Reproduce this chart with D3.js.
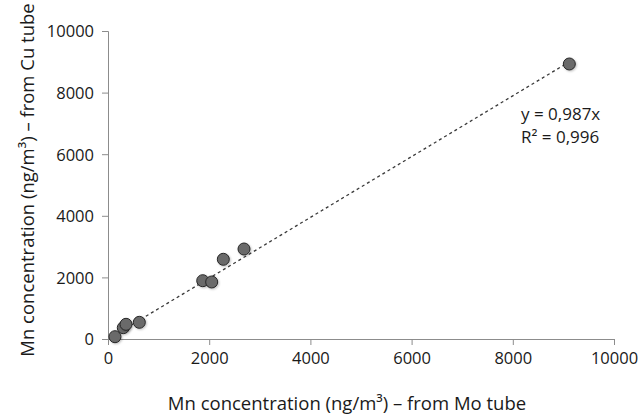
<!DOCTYPE html>
<html>
<head>
<meta charset="utf-8">
<script src="https://cdn.jsdelivr.net/npm/d3@7"></script>
<style>
  html, body { margin: 0; padding: 0; background: #fff; }
  svg { display: block; font-family: "Open Sans", sans-serif; }
</style>
</head>
<body>
<div id="chart"></div>
<script>
// Mn concentration: Mo tube (x) vs Cu tube (y), ng/m3
const moTube = [138, 302, 356, 619, 1872, 2049, 2279, 2688, 9117];
const cuTube = [75, 367, 477, 542, 1893, 1851, 2588, 2922, 8929];
const slope = 0.987;
const xTicks = [0, 2000, 4000, 6000, 8000, 10000];
const yTicks = [0, 2000, 4000, 6000, 8000, 10000];
const eqLines = ['y = 0,987x', 'R² = 0,996'];

(function(){
  const width = 641, height = 418;
  const margin = {top:31, right:27, bottom:79, left:108};
  const innerW = width - margin.left - margin.right;
  const innerH = height - margin.top - margin.bottom;

  const svg = d3.select('#chart').append('svg')
    .attr('width', width)
    .attr('height', height);

  const g = svg.append('g')
    .attr('transform', `translate(${margin.left},${margin.top})`);

  const x = d3.scaleLinear().domain([0, 10000]).range([0, innerW]);
  const y = d3.scaleLinear().domain([0, 10000]).range([innerH, 0]);

  // axes
  const xAxis = g.append('g')
    .attr('transform', `translate(0,${innerH})`)
    .call(d3.axisBottom(x).tickValues(xTicks).tickSize(6).tickPadding(7).tickFormat(d3.format('d')));
  const yAxis = g.append('g')
    .call(d3.axisLeft(y).tickValues(yTicks).tickSize(6).tickPadding(8).tickFormat(d3.format('d')));

  [xAxis, yAxis].forEach(a => {
    a.select('.domain').attr('stroke', '#8c8c8c');
    a.selectAll('.tick line').attr('stroke', '#8c8c8c');
    a.selectAll('.tick text')
      .attr('fill', '#1a1a1a')
      .style('font-size', '16.5px')
      .style('font-family', '"Open Sans", sans-serif');
  });
  yAxis.selectAll('.tick text').attr('dy', '0.36em');

  // trend line over the data range
  const xMin = d3.min(moTube), xMax = d3.max(moTube);
  g.append('line')
    .attr('x1', x(xMin)).attr('y1', y(slope * xMin))
    .attr('x2', x(xMax)).attr('y2', y(slope * xMax))
    .attr('stroke', '#3a3a3a')
    .attr('stroke-width', 1.3)
    .attr('stroke-dasharray', '3,3');

  // points
  const defs = svg.append('defs');
  const f = defs.append('filter').attr('id', 'shadow')
    .attr('x', '-50%').attr('y', '-50%').attr('width', '200%').attr('height', '200%');
  f.append('feDropShadow').attr('dx', 1).attr('dy', 1).attr('stdDeviation', 1)
    .attr('flood-color', '#000').attr('flood-opacity', 0.25);

  g.selectAll('circle.pt').data(moTube).enter().append('circle')
    .attr('class', 'pt')
    .attr('cx', d => x(d))
    .attr('cy', (d, i) => y(cuTube[i]))
    .attr('r', 6)
    .attr('fill', '#6b6b6b')
    .attr('stroke', '#262626')
    .attr('stroke-width', 1)
    .attr('filter', 'url(#shadow)');

  // equation, one text per line
  svg.selectAll('text.eq').data(eqLines).enter().append('text')
    .attr('class', 'eq')
    .attr('x', 521)
    .attr('y', (d, i) => 120 + i * 23)
    .attr('fill', '#1a1a1a')
    .style('font-size', '17px')
    .text(d => d);

  // axis titles
  svg.append('text')
    .attr('x', 347)
    .attr('y', 410)
    .attr('text-anchor', 'middle')
    .attr('fill', '#1a1a1a')
    .style('font-size', '18.5px')
    .text('Mn concentration (ng/m³) – from Mo tube');

  svg.append('text')
    .attr('transform', 'rotate(-90)')
    .attr('x', -180)
    .attr('y', 34)
    .attr('text-anchor', 'middle')
    .attr('fill', '#1a1a1a')
    .style('font-size', '18.5px')
    .text('Mn concentration (ng/m³) – from Cu tube');
})();
</script>
</body>
</html>
